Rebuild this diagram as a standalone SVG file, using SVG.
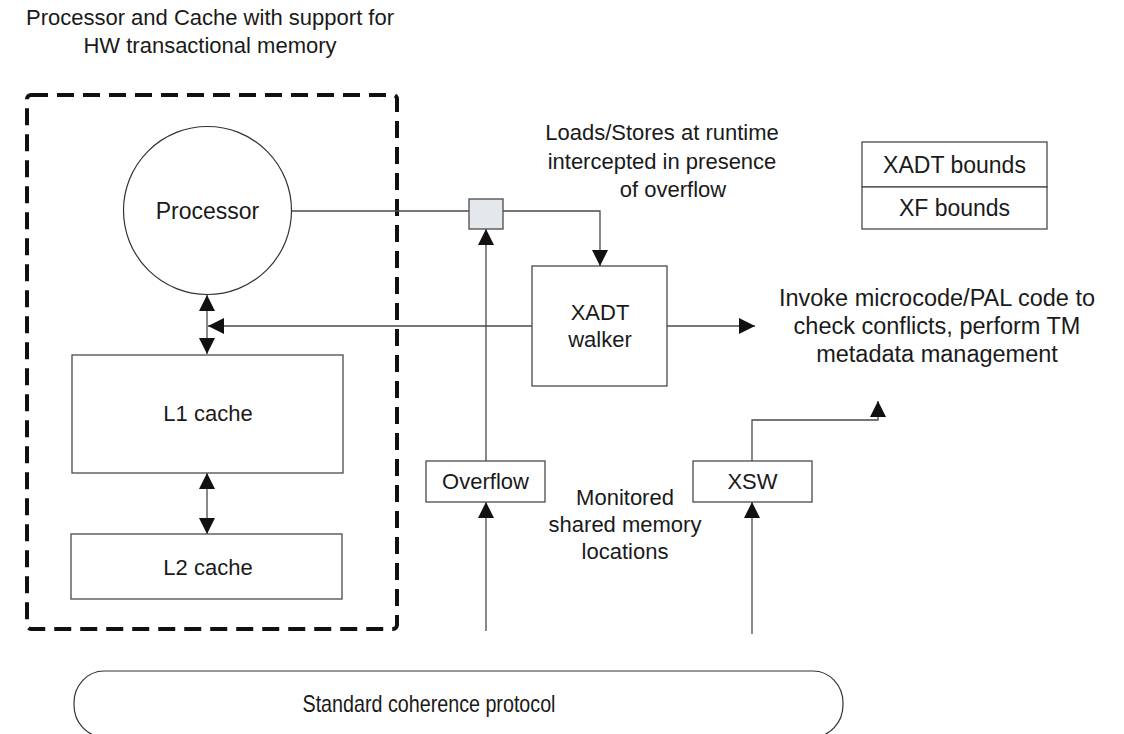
<svg xmlns="http://www.w3.org/2000/svg" width="1124" height="734" viewBox="0 0 1124 734">
<defs>
<style>
text{font-family:"Liberation Sans",Arial,sans-serif;fill:#1a1a1a;text-anchor:middle;dominant-baseline:central;font-size:22px}
.s23{font-size:23px}
.s235{font-size:23.5px}
.s24{font-size:24px}
.box{fill:#fff;stroke:#4a4a4a;stroke-width:1.3}
.ln{fill:none;stroke:#4a4a4a;stroke-width:1.3}
</style>
<marker id="ah" viewBox="0 0 16 16" refX="16" refY="8" markerWidth="16" markerHeight="16" markerUnits="userSpaceOnUse" orient="auto-start-reverse">
<path d="M0,0 L16,8 L0,16 Z" fill="#111"/>
</marker>
</defs>
<rect width="1124" height="734" fill="#fff"/>

<g id="title">
<text x="210" y="17">Processor and Cache with support for</text>
<text x="210" y="45">HW transactional memory</text>
</g>

<g id="hw-boundary">
<rect x="27" y="95" width="370" height="534" rx="4" fill="none" stroke="#111" stroke-width="4" stroke-dasharray="17,9"/>
</g>

<g id="connectors">
<line class="ln" x1="292" y1="211" x2="469" y2="211"/>
<polyline class="ln" points="503,211 600,211 600,266" marker-end="url(#ah)"/>
<line class="ln" x1="207" y1="295" x2="207" y2="354" marker-start="url(#ah)" marker-end="url(#ah)"/>
<line class="ln" x1="532" y1="326" x2="208" y2="326" marker-end="url(#ah)"/>
<line class="ln" x1="207" y1="473" x2="207" y2="534" marker-start="url(#ah)" marker-end="url(#ah)"/>
<line class="ln" x1="486" y1="461" x2="486" y2="229" marker-end="url(#ah)"/>
<line class="ln" x1="486" y1="631" x2="486" y2="502" marker-end="url(#ah)"/>
<line class="ln" x1="667" y1="326" x2="755" y2="326" marker-end="url(#ah)"/>
<polyline class="ln" points="752,461 752,420 878,420 878,401" marker-end="url(#ah)"/>
<line class="ln" x1="752" y1="634" x2="752" y2="502" marker-end="url(#ah)"/>
</g>

<g id="processor">
<circle cx="207.5" cy="210.5" r="84" fill="#fff" stroke="#333" stroke-width="1.2"/>
<text class="s23" x="207.5" y="211">Processor</text>
</g>

<g id="interceptor">
<rect x="469" y="199" width="34" height="30" fill="#e4e7ec" stroke="#4a4a4a" stroke-width="1.3"/>
</g>

<g id="l1-cache">
<rect class="box" x="72" y="355" width="271" height="118"/>
<text x="208" y="413">L1 cache</text>
</g>

<g id="l2-cache">
<rect class="box" x="71" y="534" width="271" height="65"/>
<text x="208" y="567">L2 cache</text>
</g>

<g id="xadt-walker">
<rect class="box" x="532" y="266" width="135" height="120"/>
<text x="600" y="312">XADT</text>
<text x="600" y="339">walker</text>
</g>

<g id="overflow">
<rect class="box" x="426" y="461" width="119" height="41"/>
<text x="485.5" y="481">Overflow</text>
</g>

<g id="xsw">
<rect class="box" x="693" y="461" width="119" height="41"/>
<text x="752.5" y="481">XSW</text>
</g>

<g id="bounds">
<rect class="box" x="862" y="142" width="185" height="45"/>
<rect class="box" x="862" y="187" width="185" height="42"/>
<text class="s23" x="954.5" y="165">XADT bounds</text>
<text class="s23" x="954.5" y="208">XF bounds</text>
</g>

<g id="loads-label">
<text x="662" y="132">Loads/Stores at runtime</text>
<text x="662" y="161">intercepted in presence</text>
<text x="673" y="189">of overflow</text>
</g>

<g id="invoke-label">
<text class="s235" x="937" y="298">Invoke microcode/PAL code to</text>
<text class="s235" x="937" y="326">check conflicts, perform TM</text>
<text class="s235" x="937" y="354">metadata management</text>
</g>

<g id="monitored-label">
<text x="625" y="497">Monitored</text>
<text x="625" y="524">shared memory</text>
<text x="625" y="551">locations</text>
</g>

<g id="coherence">
<rect x="74" y="671" width="769" height="66" rx="30" ry="32" fill="#fff" stroke="#333" stroke-width="1.2"/>
<text class="s24" x="429" y="703" textLength="253" lengthAdjust="spacingAndGlyphs">Standard coherence protocol</text>
</g>
</svg>
